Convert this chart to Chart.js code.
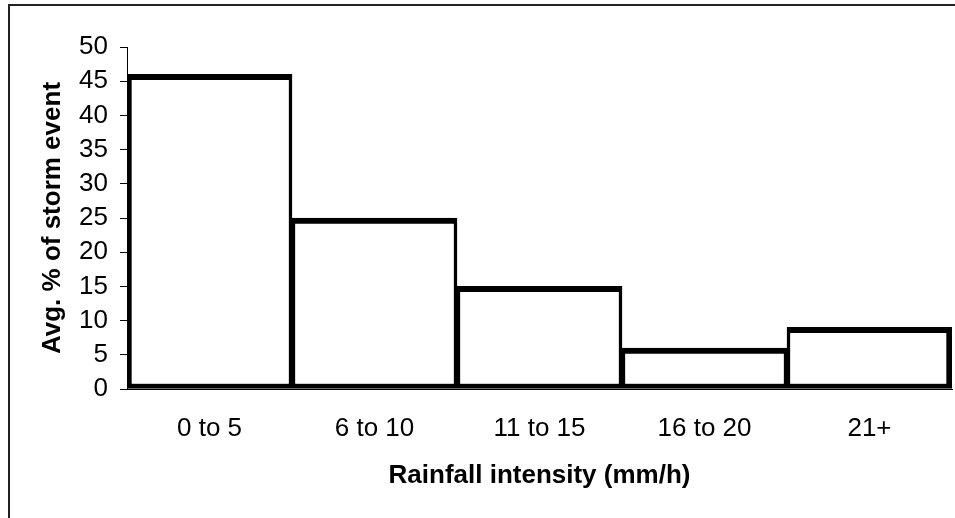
<!DOCTYPE html>
<html>
<head>
<meta charset="utf-8">
<script src="https://cdn.jsdelivr.net/npm/chart.js@4"></script>
<style>
  html, body { margin: 0; padding: 0; background: #fff; overflow: hidden; }
  #wrap { position: relative; width: 955px; height: 518px; overflow: hidden; }
  #frame {
    position: absolute; left: 8px; top: 4px;
    width: 970px; height: 540px;
    border: 2px solid #222; box-sizing: border-box;
  }
  canvas { position: absolute; left: 0; top: 0; }
</style>
</head>
<body>
<div id="wrap">
  <div id="frame"></div>
  <canvas id="stormChart" width="955" height="518"></canvas>
</div>
<script>
// rainfall intensity classes and the avg share of each storm event
const categories = ["0 to 5", "6 to 10", "11 to 15", "16 to 20", "21+"];
const avgPercent = [46, 25, 15, 6, 9];
const yTicks = [0, 5, 10, 15, 20, 25, 30, 35, 40, 45, 50];

const fontFamily = "'Liberation Sans', Arial, sans-serif";

const ctx = document.getElementById("stormChart");

new Chart(ctx, {
  type: "bar",
  data: {
    labels: categories,
    datasets: [
      {
        label: "Avg. % of storm event",
        data: avgPercent,
        backgroundColor: "#ffffff",
        borderColor: "#000000",
        // neighbouring bars share an edge, so inner sides are half width
        borderWidth: (c) => ({
          top: 6,
          bottom: 5,
          left: c.dataIndex === 0 ? 5 : 3.5,
          right: c.dataIndex === categories.length - 1 ? 6 : 3.5,
        }),
        borderSkipped: false,
        categoryPercentage: 1.0,
        barPercentage: 1.0,
      },
    ],
  },
  options: {
    responsive: false,
    animation: false,
    layout: { padding: { top: 47, right: 3, left: 0, bottom: 0 } },
    plugins: {
      legend: { display: false },
      tooltip: { enabled: false },
    },
    scales: {
      x: {
        grid: { display: true, drawOnChartArea: false, drawTicks: false },
        border: { color: "#000", width: 1 },
        ticks: {
          color: "#000",
          padding: 24,
          font: { family: fontFamily, size: 26 },
        },
        title: {
          display: true,
          text: "Rainfall intensity (mm/h)",
          color: "#000",
          font: { family: fontFamily, size: 26, weight: "bold" },
          padding: { top: 0, bottom: 27 },
        },
        afterFit: (scale) => { scale.height = 129; },
      },
      y: {
        min: 0,
        max: 50,
        afterBuildTicks: (scale) => {
          scale.ticks = yTicks.map((v) => ({ value: v }));
        },
        grid: { drawOnChartArea: false, drawTicks: true, tickLength: 7, color: "#000" },
        border: { color: "#000", width: 1 },
        ticks: {
          color: "#000",
          padding: 12,
          font: { family: fontFamily, size: 26 },
        },
        title: {
          display: true,
          text: "Avg. % of storm event",
          color: "#000",
          font: { family: fontFamily, size: 26, weight: "bold" },
          padding: { top: 37, bottom: 0 },
        },
        afterFit: (scale) => { scale.width = 127; },
      },
    },
  },
});
</script>
</body>
</html>
